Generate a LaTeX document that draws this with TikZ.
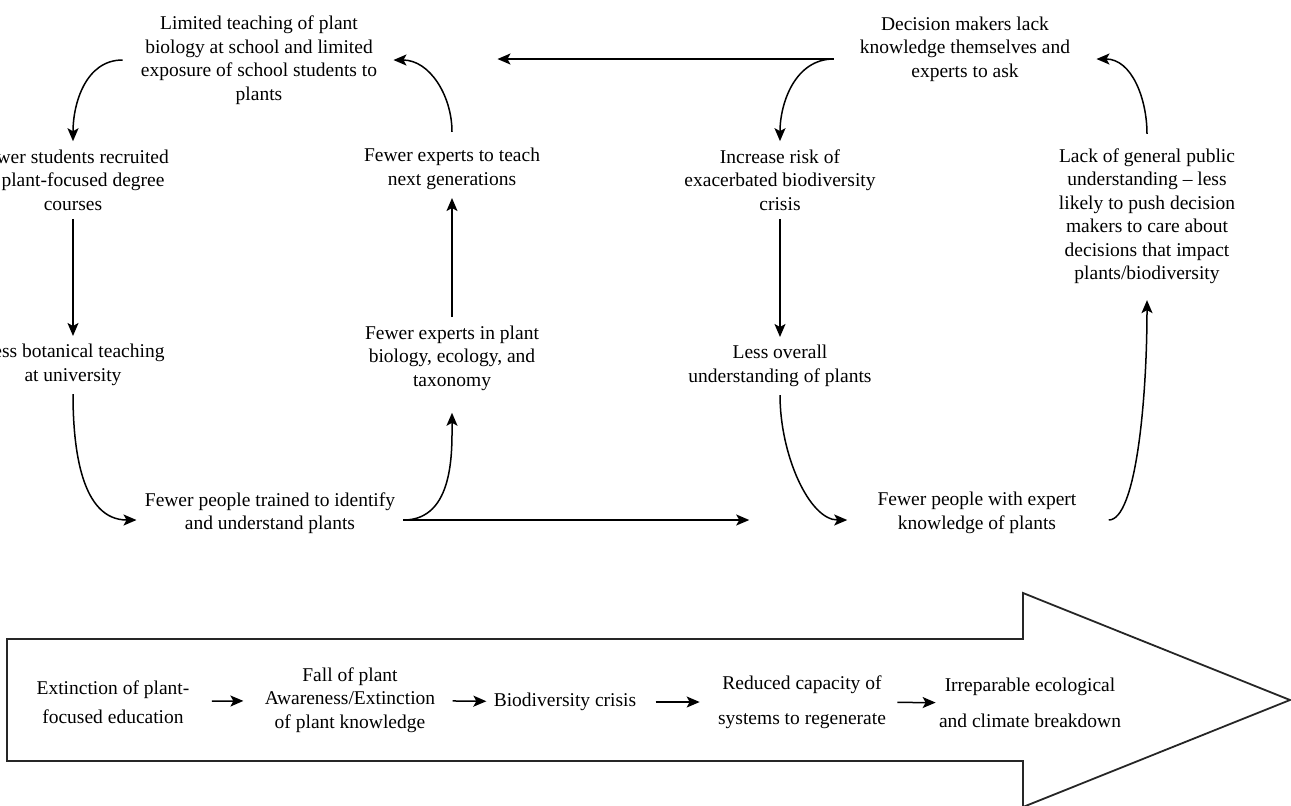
\documentclass[tikz,border=0pt]{standalone}
\usepackage{fontspec}
\setmainfont{Liberation Serif}
\usetikzlibrary{positioning,arrows.meta}

\begin{document}
\begin{tikzpicture}[x=0.5pt,y=-0.5pt,
    box/.style={align=center,inner sep=4pt,font=\fontsize{9.75pt}{11.75pt}\selectfont},
    link/.style={-{Stealth[length=6.5pt,width=5.5pt,inset=1.5pt]},line width=0.75pt}]
    \useasboundingbox (0,0) rectangle (1291,805);

    % Loop on teaching and training
    \node[box] (school) at (259,60) {Limited teaching of plant\\biology at school and limited\\exposure of school students to\\plants};
    \node[box] (students) at (73,180) {Fewer students recruited\\to plant-focused degree\\courses};
    \node[box] (botanical) at (73,365) {Less botanical teaching\\at university};
    \node[box] (trained) at (270,513) {Fewer people trained to identify\\and understand plants};
    \node[box] (taxo) at (452,358) {Fewer experts in plant\\biology, ecology, and\\taxonomy};
    \node[box] (teach) at (452,169) {Fewer experts to teach\\next generations};

    % Loop on knowledge and decisions
    \node[box] (decision) at (965,49) {Decision makers lack\\knowledge themselves and\\experts to ask};
    \node[box] (risk) at (780,180) {Increase risk of\\exacerbated biodiversity\\crisis};
    \node[box] (overall) at (780,366) {Less overall\\understanding of plants};
    \node[box] (expert) at (977,513) {Fewer people with expert\\knowledge of plants};
    \node[box] (public) at (1147,216) {Lack of general public\\understanding -- less\\likely to push decision\\makers to care about\\decisions that impact\\plants/biodiversity};
    \coordinate (split) at ([xshift=-9pt,yshift=-5pt]decision.west);

    % Arrows, left loop
    \draw[link] ([xshift=-5pt]school.west) to[out=180,in=90] (students.north);
    \draw[link] (students) -- (botanical);
    \draw[link] (botanical.south) to[out=-90,in=180] ([yshift=-3.5pt]trained.west);
    \draw[link,shorten >=7pt] ([yshift=-3.5pt]trained.east) to[out=0,in=-90] (taxo.south);
    \draw[link] (taxo) -- (teach);
    \draw[link] ([yshift=4pt]teach.north) to[out=90,in=0] ([xshift=4pt]school.east);

    % Arrows, right loop
    \draw[link,shorten >=56pt] (split) -- (school.east |- split);
    \draw[link] (split) to[out=180,in=90] (risk.north);
    \draw[link] (risk) -- (overall);
    \draw[link,shorten >=11pt] (overall.south) to[out=-90,in=180] ([yshift=-3.5pt]expert.west);
    \draw[link,shorten >=60pt] ([yshift=-3.5pt]trained.east) -- ([yshift=-3.5pt]expert.west);
    \draw[link,shorten >=4pt] ([xshift=12pt,yshift=-3.5pt]expert.east)
        to[out=0,in=-90,out looseness=0.3,in looseness=1.2] (public.south);
    \draw[link] ([yshift=3pt]public.north) to[out=90,in=0] ([xshift=9pt,yshift=-5pt]decision.east);

    % Timeline arrow
    \draw[line width=0.9pt,draw=black!85] (7,639) -- (1023,639) -- (1023,593) -- (1290,700)
        -- (1023,807) -- (1023,761) -- (7,761) -- cycle;
    \node[box,inner sep=0pt] (ext) at (113,702) {Extinction of plant-\\[2.75pt]focused education};
    \node[box,inner sep=0pt] (fall) at (350,700) {Fall of plant\\Awareness/Extinction\\of plant knowledge};
    \node[box,inner sep=0pt] (bio) at (565,702) {Biodiversity crisis};
    \node[box,inner sep=0pt] (reduced) at (802,702) {Reduced capacity of\\[5.75pt]systems to regenerate};
    \node[box,inner sep=0pt] (irrep) at (1030,703) {Irreparable ecological\\[6pt]and climate breakdown};

    \draw[link,shorten <=11pt,shorten >=10.5pt] (ext) -- (fall);
    \draw[link,shorten <=8.5pt,shorten >=3.5pt] (fall) -- (bio);
    \draw[link,shorten <=9.5pt,shorten >=9pt] (bio) -- (reduced);
    \draw[link,shorten <=5.5pt,shorten >=1.5pt] (reduced) -- (irrep);
\end{tikzpicture}
\end{document}
